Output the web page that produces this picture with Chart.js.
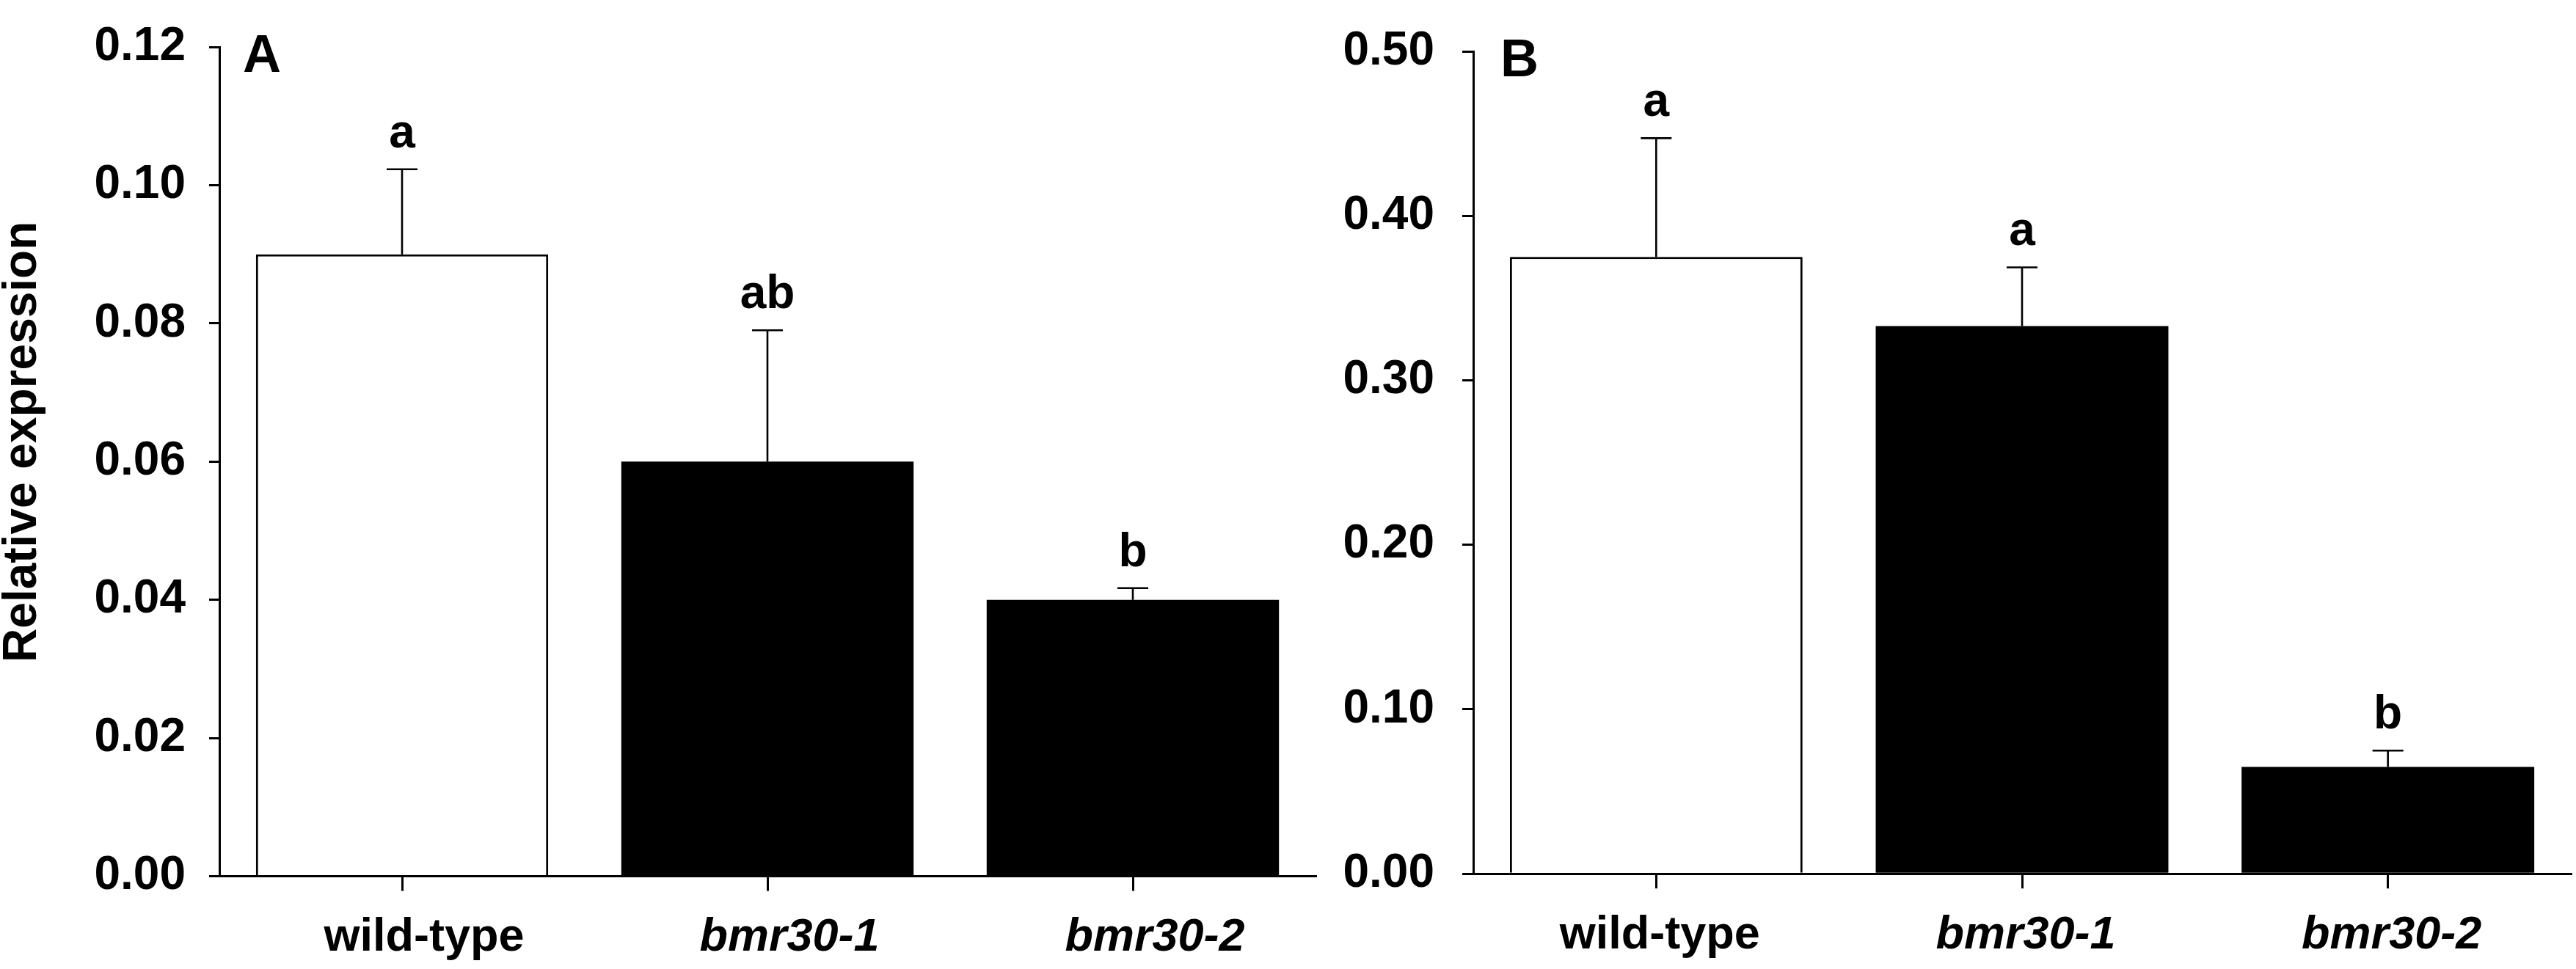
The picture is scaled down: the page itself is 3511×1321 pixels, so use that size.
<!DOCTYPE html>
<html>
<head>
<meta charset="utf-8">
<script src="https://cdn.jsdelivr.net/npm/chart.js@4.4.1/dist/chart.umd.min.js"></script>
<style>
html, body { margin: 0; padding: 0; background: #fff; }
#wrap { position: relative; width: 3511px; height: 1321px; background: #fff; overflow: hidden; }
.panel { position: absolute; top: 0; height: 1321px; }
#pa { left: 0; width: 1830px; }
#pb { left: 1830px; width: 1681px; }
</style>
</head>
<body>
<div id="wrap">
  <div class="panel" id="pa"><canvas id="cA"></canvas></div>
  <div class="panel" id="pb"><canvas id="cB"></canvas></div>
</div>
<script>
// ---------------- data ----------------
const categories = ['wild-type', 'bmr30-1', 'bmr30-2'];

const meansA   = [0.090, 0.060, 0.040];
const errorsA  = [0.0123, 0.0190, 0.0017];
const lettersA = ['a', 'ab', 'b'];
const yTicksA  = [0.00, 0.02, 0.04, 0.06, 0.08, 0.10, 0.12];

const meansB   = [0.375, 0.333, 0.065];
const errorsB  = [0.0722, 0.0357, 0.0099];
const lettersB = ['a', 'a', 'b'];
const yTicksB  = [0.00, 0.10, 0.20, 0.30, 0.40, 0.50];

const yTitle = 'Relative expression';
const barFills = ['#ffffff', '#000000', '#000000'];
const barBorders = [3, 0, 0];

// ---------------- style ----------------
const FAM = '"Liberation Sans", Arial, Helvetica, sans-serif';

const overlayPlugin = {
  id: 'overlay',
  afterDatasetsDraw(chart, args, opts) {
    const { ctx, chartArea } = chart;
    const x = chart.scales.x, y = chart.scales.y;
    ctx.save();
    ctx.strokeStyle = '#000';
    ctx.fillStyle = '#000';
    ctx.lineWidth = 2.6;
    ctx.lineCap = 'butt';
    opts.means.forEach((m, i) => {
      const cx = x.getPixelForValue(i);
      const y0 = y.getPixelForValue(m);
      const y1 = y.getPixelForValue(m + opts.errors[i]);
      ctx.beginPath();
      ctx.moveTo(cx, y0);
      ctx.lineTo(cx, y1);
      ctx.moveTo(cx - 21, y1);
      ctx.lineTo(cx + 21, y1);
      ctx.stroke();
      ctx.font = 'bold 64px ' + FAM;
      ctx.textAlign = 'center';
      ctx.textBaseline = 'alphabetic';
      ctx.fillText(opts.letters[i], cx, y1 - 30);
    });
    // panel letter
    ctx.font = 'bold 72px ' + FAM;
    ctx.textAlign = 'left';
    ctx.textBaseline = 'alphabetic';
    ctx.fillText(opts.panel, chartArea.left + opts.panelDx, chartArea.top + 34);
    // y title
    if (opts.title) {
      ctx.translate(31, (chartArea.top + chartArea.bottom) / 2 - 27);
      ctx.rotate(-Math.PI / 2);
      ctx.font = 'bold 64px ' + FAM;
      ctx.textAlign = 'center';
      ctx.textBaseline = 'middle';
      ctx.fillText(opts.title, 0, 0);
    }
    ctx.restore();
  }
};

function makeChart(canvasId, means, errors, letters, yTicks, yMax, cfg) {
  return new Chart(document.getElementById(canvasId), {
    type: 'bar',
    data: {
      labels: categories,
      datasets: [{
        data: means,
        backgroundColor: barFills,
        borderColor: '#000',
        borderWidth: barBorders,
        borderSkipped: 'start',
        barPercentage: 0.8,
        categoryPercentage: 1.0
      }]
    },
    plugins: [overlayPlugin],
    options: {
      responsive: true,
      maintainAspectRatio: false,
      animation: false,
      devicePixelRatio: 1,
      layout: { padding: { left: 0, right: cfg.padRight, top: cfg.padTop, bottom: 0 } },
      plugins: {
        legend: { display: false },
        tooltip: { enabled: false },
        overlay: { means, errors, letters, panel: cfg.panel, panelDx: cfg.panelDx, title: cfg.title }
      },
      scales: {
        x: {
          type: 'category',
          offset: true,
          ticks: {
            color: '#000',
            padding: 33,
            labelOffset: cfg.xLabelOffset,
            maxRotation: 0,
            autoSkip: false,
            font: (c) => ({ family: FAM, size: 63, weight: 'bold', style: c.index > 0 ? 'italic' : 'normal', lineHeight: 1 })
          },
          grid: {
            display: true, drawOnChartArea: false, drawTicks: true, offset: false,
            tickLength: 20, tickWidth: 3, tickColor: '#000', color: '#000', lineWidth: 3
          },
          border: { display: true, color: '#000', width: 3 },
          afterFit: (s) => { s.height = cfg.xHeight; }
        },
        y: {
          min: 0,
          max: yMax,
          afterBuildTicks: (s) => { s.ticks = yTicks.map(v => ({ value: v })); },
          ticks: {
            color: '#000',
            padding: cfg.yPad,
            font: { family: FAM, size: 64, weight: 'bold', lineHeight: 1 },
            callback: (v) => Number(v).toFixed(2)
          },
          grid: {
            display: true, drawOnChartArea: false, drawTicks: true,
            tickLength: cfg.yTick, tickWidth: 3, tickColor: '#000', color: '#000', lineWidth: 3
          },
          border: { display: true, color: '#000', width: 3 },
          afterFit: (s) => { s.width = cfg.yWidth; }
        }
      }
    }
  });
}

makeChart('cA', meansA, errorsA, lettersA, yTicksA, 0.12,
  { padRight: 37, padTop: 39.6, xHeight: 1321 - 1194.6, yWidth: 299, yPad: 32, yTick: 14, xLabelOffset: 30, panel: 'A', panelDx: 32, title: yTitle });
makeChart('cB', meansB, errorsB, lettersB, yTicksB, 0.50,
  { padRight: 7, padTop: 36.2, xHeight: 1321 - 1191.2, yWidth: 178, yPad: 38, yTick: 15, xLabelOffset: 5, panel: 'B', panelDx: 37, title: null });
</script>
</body>
</html>
